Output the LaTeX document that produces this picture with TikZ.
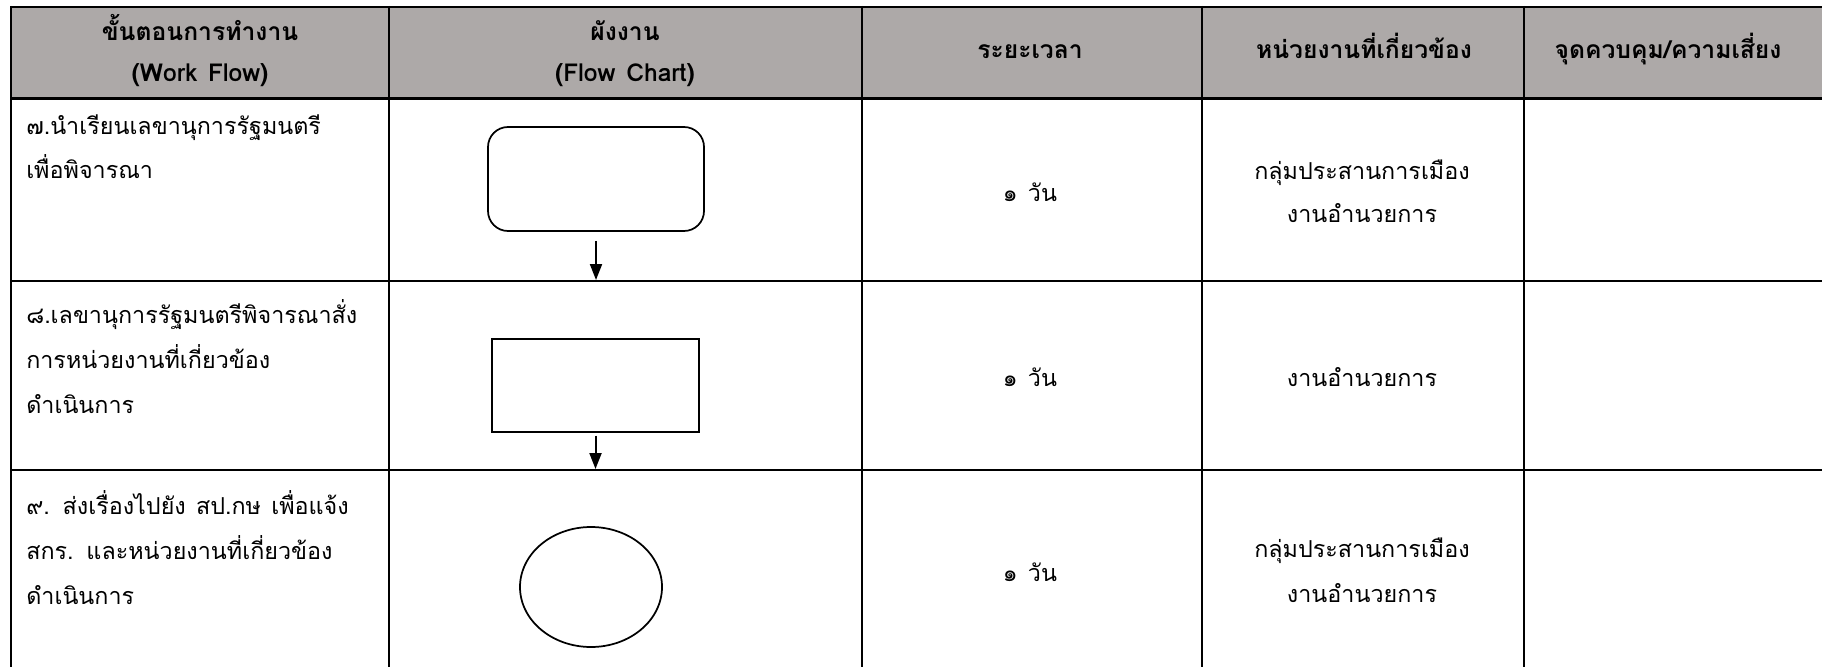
\documentclass[tikz,border=0pt]{standalone}
\usepackage{fontspec}
\setmainfont[Script=Thai,WordSpace=1.3]{Loma}
\usetikzlibrary{arrows.meta,shapes.geometric}
\definecolor{hdr}{RGB}{173,169,168}
\begin{document}
\begin{tikzpicture}[x=0.75pt,y=-0.75pt,
  grid/.style={line width=2pt},
  shp/.style={draw, line width=1.3pt, inner sep=0pt, fill=white},
  arr/.style={line width=1.5pt, -{Triangle[length=12pt,width=9pt]}},
  cell/.style={anchor=base west, inner sep=0pt, font=\fontsize{17.5}{20}\selectfont},
  mid/.style={anchor=base, inner sep=0pt, font=\fontsize{17.5}{20}\selectfont},
  hd/.style={anchor=base, inner sep=0pt, font=\bfseries\fontsize{18.5}{20}\selectfont}]
\useasboundingbox (0,0) rectangle (1822,667);
% header fill
\fill[hdr] (11,7) rectangle (1822,98.5);
% grid
\draw[grid] (11,7) -- (1822,7);
\draw[grid] (11,98.5) -- (1822,98.5);
\draw[grid] (11,281) -- (1822,281);
\draw[grid] (11,470) -- (1822,470);
\foreach \xx in {11,389,862,1202,1524} \draw[grid] (\xx,6) -- (\xx,667);
% header texts
\node[hd] (h1a) at (200,41) {ขั้นตอนการทำงาน};
\node[hd] (h1b) at (200,81) {(Work Flow)};
\node[hd] (h2a) at (625,41) {ผังงาน};
\node[hd] (h2b) at (625,81) {(Flow Chart)};
\node[hd] (h3) at (1030,59) {ระยะเวลา};
\node[hd] (h4) at (1364,59) {หน่วยงานที่เกี่ยวข้อง};
\node[hd] (h5) at (1668,59) {จุดควบคุม/ความเสี่ยง};
% column 1
\node[cell] (r1a) at (26,134) {๗.นำเรียนเลขานุการรัฐมนตรี};
\node[cell] (r1b) at (26,178) {เพื่อพิจารณา};
\node[cell] (r2a) at (26,323) {๘.เลขานุการรัฐมนตรีพิจารณาสั่ง};
\node[cell] (r2b) at (26,368) {การหน่วยงานที่เกี่ยวข้อง};
\node[cell] (r2c) at (26,413) {ดำเนินการ};
\node[cell] (r3a) at (26,514) {๙. ส่งเรื่องไปยัง สป.กษ เพื่อแจ้ง};
\node[cell] (r3b) at (26,559) {สกร. และหน่วยงานที่เกี่ยวข้อง};
\node[cell] (r3c) at (26,604) {ดำเนินการ};
% column 3
\node[mid] (d1) at (1030,201) {๑ วัน};
\node[mid] (d2) at (1030,386) {๑ วัน};
\node[mid] (d3) at (1030,581) {๑ วัน};
% column 4
\node[mid] (u1a) at (1362,179) {กลุ่มประสานการเมือง};
\node[mid] (u1b) at (1362,222) {งานอำนวยการ};
\node[mid] (u2) at (1362,386) {งานอำนวยการ};
\node[mid] (u3a) at (1362,557) {กลุ่มประสานการเมือง};
\node[mid] (u3b) at (1362,602) {งานอำนวยการ};
% flow chart shapes
\node[shp, rounded corners=15pt, minimum width=162pt, minimum height=78pt] (s1) at (596,179) {};
\node[shp, rectangle, minimum width=155.25pt, minimum height=69.75pt] (s2) at (595.5,385.5) {};
\node[shp, ellipse, minimum width=106.5pt, minimum height=90pt] (s3) at (591,587) {};
% arrows
\coordinate (e1) at (596,280);
\coordinate (e2) at (595.5,469);
\draw[arr, shorten <=6.75pt] (s1.south -| e1) -- (e1);
\draw[arr, shorten <=2pt] (s2.south -| e2) -- (e2);
\end{tikzpicture}
\end{document}
